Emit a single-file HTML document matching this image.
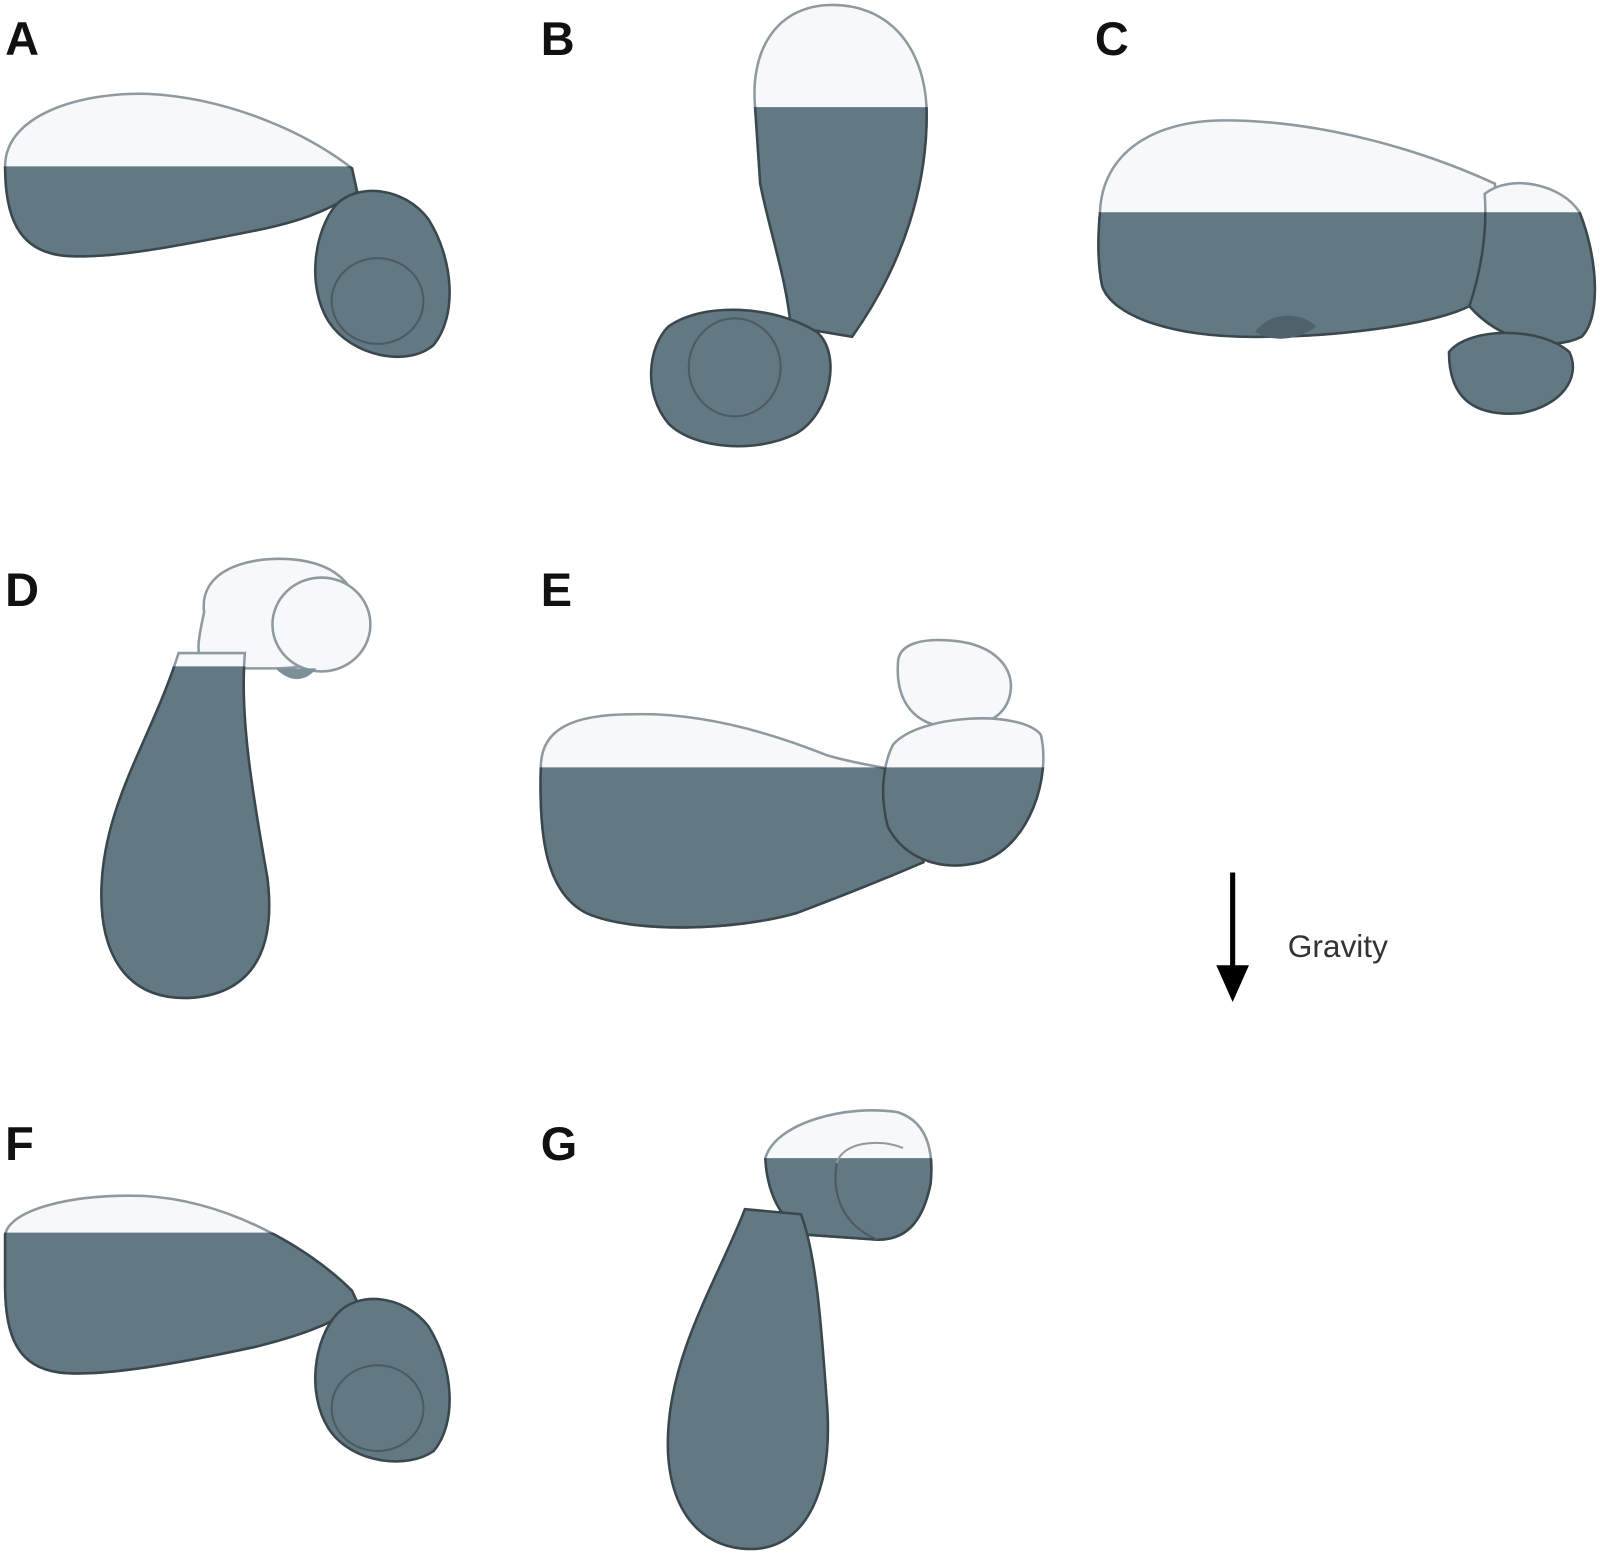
<!DOCTYPE html>
<html><head><meta charset="utf-8"><style>
html,body{margin:0;padding:0;background:#fff;}
svg{display:block}
.lbl{font-family:"Liberation Sans",sans-serif;font-weight:bold;font-size:46px;fill:#111}
.w{fill:#f6f8f9;stroke:#8e9aa0;stroke-width:2.5}
.d{fill:#627882;stroke:#3a474d;stroke-width:2.5}
</style></head><body>
<svg width="1600" height="1556" viewBox="0 0 1600 1556" xmlns="http://www.w3.org/2000/svg">
<defs>
<clipPath id="cA"><rect x="0" y="163" width="520" height="300"/></clipPath>
<clipPath id="cB"><rect x="600" y="105" width="400" height="400"/></clipPath>
<clipPath id="cC"><rect x="1050" y="208" width="550" height="300"/></clipPath>
<clipPath id="cD"><rect x="50" y="653" width="400" height="400"/></clipPath>
<clipPath id="cE"><rect x="500" y="752" width="600" height="300"/></clipPath>
<clipPath id="cF"><rect x="0" y="1208" width="520" height="300"/></clipPath>
<clipPath id="cG"><rect x="600" y="1135" width="400" height="450"/></clipPath>
</defs>
<g transform="scale(1.0204)">
<text class="lbl" x="5" y="54">A</text>
<text class="lbl" x="530" y="54">B</text>
<text class="lbl" x="1073" y="54">C</text>
<text class="lbl" x="5" y="594">D</text>
<text class="lbl" x="530" y="594">E</text>
<text class="lbl" x="5" y="1137">F</text>
<text class="lbl" x="530" y="1137">G</text>

<!-- A -->
<path id="pA1" d="M5,163 C5,112 80,90 145,92 C225,96 300,130 345,165 L350,188 C320,208 290,218 250,226 C180,240 100,256 58,250 C18,244 5,212 5,163 Z"/>
<path id="pA2" d="M330,200 C350,180 395,182 420,215 C445,255 448,310 425,338 C400,360 345,350 322,315 C300,280 308,225 330,200 Z"/>
<use href="#pA1" class="w"/><use href="#pA1" class="d" clip-path="url(#cA)"/>
<use href="#pA2" class="d"/>
<ellipse cx="370" cy="295" rx="45" ry="42" fill="none" stroke="#4a5b62" stroke-width="2"/>

<!-- B -->
<path id="pB1" d="M740,105 C735,50 760,8 810,5 C870,2 905,45 908,105 C910,180 885,260 835,330 L775,320 C770,270 755,230 745,180 Z"/>
<use href="#pB1" class="w"/><use href="#pB1" class="d" clip-path="url(#cB)"/>
<path d="M655,320 C690,295 760,300 800,325 C825,345 815,405 780,425 C740,445 680,440 655,415 C630,385 635,340 655,320 Z" class="d"/>
<ellipse cx="720" cy="360" rx="45" ry="48" fill="none" stroke="#4a5b62" stroke-width="2"/>

<!-- C -->
<path id="pC1" d="M1078,208 C1080,150 1130,118 1200,118 C1300,118 1400,150 1465,180 C1470,240 1460,290 1440,300 C1400,320 1300,330 1240,330 C1150,332 1090,310 1080,280 C1075,255 1076,230 1078,208 Z"/>
<use href="#pC1" class="w"/><use href="#pC1" class="d" clip-path="url(#cC)"/>
<path id="pC2" d="M1455,190 C1480,170 1530,180 1548,208 C1565,250 1570,310 1550,330 C1520,345 1470,335 1440,300 C1450,270 1458,230 1455,190 Z"/>
<use href="#pC2" class="w"/><use href="#pC2" class="d" clip-path="url(#cC)"/>
<path d="M1230,325 C1245,305 1275,305 1290,320 C1270,335 1245,335 1230,325 Z" fill="#4e626b"/>
<path d="M1420,345 C1440,320 1510,320 1538,345 C1550,370 1530,398 1490,405 C1450,408 1420,395 1420,345 Z" class="d"/>

<!-- D -->
<path d="M200,600 C195,560 240,545 285,548 C335,552 355,580 350,615 C345,640 310,655 270,655 L200,655 C190,640 196,620 200,600 Z" class="w"/>
<ellipse cx="315" cy="612" rx="48" ry="46" class="w"/>
<path d="M270,655 L310,655 C300,668 285,670 270,655 Z" fill="#7d909a"/>
<path id="pD1" d="M175,640 L240,640 C235,700 246,770 262,860 C272,940 240,975 185,978 C120,980 95,930 100,860 C106,780 150,720 175,640 Z"/>
<use href="#pD1" class="w"/><use href="#pD1" class="d" clip-path="url(#cD)"/>

<!-- E -->
<path d="M880,650 C880,630 905,625 935,628 C975,632 995,655 990,680 C985,705 960,715 925,712 C890,708 878,680 880,650 Z" class="w"/>
<path id="pE1" d="M530,752 C530,715 560,700 620,700 C690,698 760,720 810,740 C850,752 880,752 890,760 L905,845 C870,860 820,880 780,895 C720,912 620,915 575,895 C535,875 528,820 530,752 Z"/>
<use href="#pE1" class="w"/><use href="#pE1" class="d" clip-path="url(#cE)"/>
<path id="pE2" d="M875,730 C900,700 1000,695 1020,720 C1030,760 1010,830 960,845 C920,855 885,840 870,810 C862,780 865,750 875,730 Z"/>
<use href="#pE2" class="w"/><use href="#pE2" class="d" clip-path="url(#cE)"/>

<!-- F -->
<path id="pF1" d="M5,1210 C10,1185 70,1170 140,1172 C220,1176 300,1220 345,1265 L352,1280 C320,1300 290,1310 250,1320 C180,1335 100,1350 58,1345 C18,1340 5,1310 5,1260 Z"/>
<use href="#pF1" class="w"/><use href="#pF1" class="d" clip-path="url(#cF)"/>
<path d="M330,1288 C350,1265 395,1268 420,1300 C445,1340 448,1395 425,1422 C400,1440 345,1435 322,1400 C300,1365 308,1312 330,1288 Z" class="d"/>
<ellipse cx="370" cy="1380" rx="45" ry="42" fill="none" stroke="#4a5b62" stroke-width="2"/>

<!-- G -->
<path id="pG1" d="M750,1135 C760,1100 830,1082 880,1090 C910,1100 915,1130 912,1160 C905,1195 890,1215 860,1215 L790,1210 C770,1200 752,1175 750,1135 Z"/>
<use href="#pG1" class="w"/><use href="#pG1" class="d" clip-path="url(#cG)"/>
<path d="M820,1140 C825,1120 860,1115 885,1125" fill="none" stroke="#8e9aa0" stroke-width="2"/>
<path d="M820,1140 C815,1170 825,1200 860,1215" fill="none" stroke="#4a5b62" stroke-width="2"/>
<path d="M730,1185 L785,1190 C800,1230 805,1300 810,1370 C818,1460 790,1515 740,1518 C680,1520 650,1470 655,1400 C660,1320 705,1250 730,1185 Z" class="d"/>

<!-- Gravity -->
<line x1="1208" y1="855" x2="1208" y2="950" stroke="#000" stroke-width="5"/>
<polygon points="1192,946 1224,946 1208,982" fill="#000"/>
<text x="1262" y="938" font-family="Liberation Sans, sans-serif" font-size="31" fill="#333">Gravity</text>
</g>
</svg>
</body></html>
